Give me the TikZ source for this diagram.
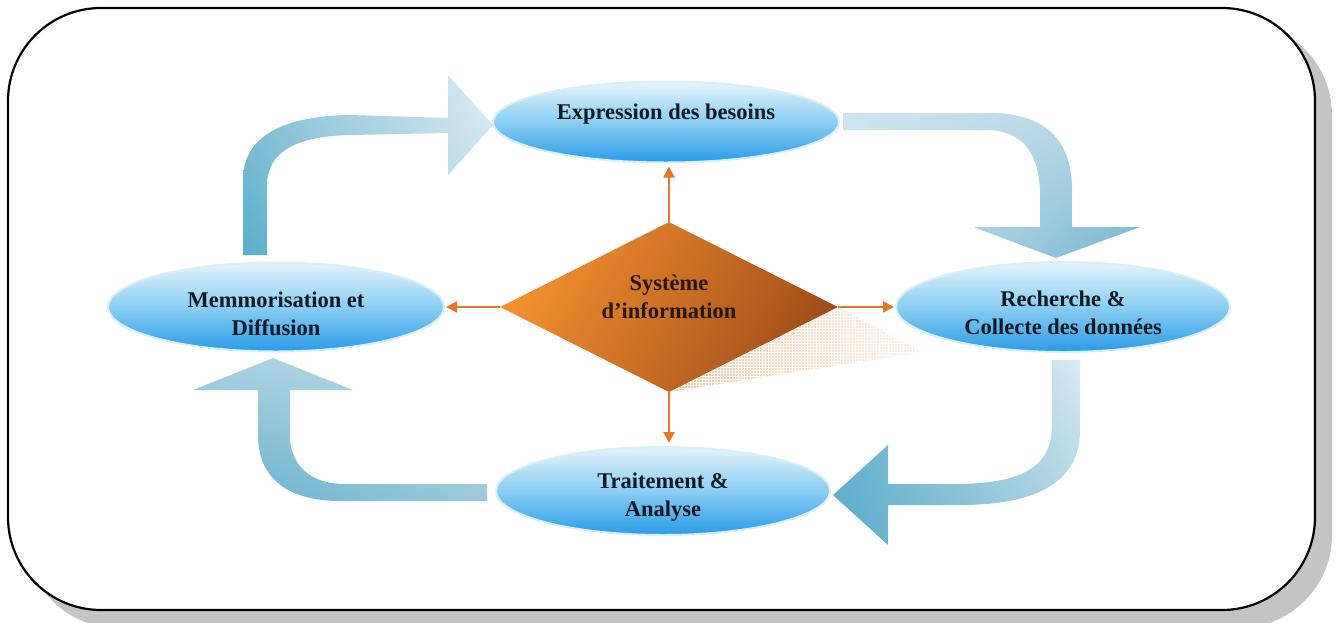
\documentclass[tikz,border=0pt]{standalone}
\usepackage{fontspec}
\setmainfont{Liberation Serif}
\usetikzlibrary{shapes.geometric,arrows.meta,patterns,calc,shadings}
\definecolor{shadowgray}{HTML}{C4C4C4}
\definecolor{elltop}{HTML}{E3F4FC}
\definecolor{ellmid}{HTML}{8ACEF3}
\definecolor{ellbot}{HTML}{2A9BE7}
\definecolor{ellglow}{HTML}{D8EEF9}
\definecolor{orline}{HTML}{E6772A}
\definecolor{orlight}{HTML}{F2902F}
\definecolor{ordark}{HTML}{A24E1A}
\definecolor{txtdark}{HTML}{101820}
\definecolor{diatxt}{HTML}{24160C}
\definecolor{shl}{HTML}{F5C49A}
\definecolor{shr}{HTML}{FDF0E6}
% blue arrow colours
\definecolor{aLL}{HTML}{58ADCC}\definecolor{aUL}{HTML}{8CC4DA}
\definecolor{aUR}{HTML}{DCECF3}\definecolor{aLR}{HTML}{C4DFEA}
\definecolor{bUL}{HTML}{CFE5F0}\definecolor{bLL}{HTML}{CFE5F0}
\definecolor{bUR}{HTML}{B2D6E5}\definecolor{bLR}{HTML}{74B5D0}
\definecolor{cUR}{HTML}{D8EBF3}\definecolor{cLR}{HTML}{A8D0E0}
\definecolor{cLL}{HTML}{58ABCA}\definecolor{cUL}{HTML}{6CB4D0}
\definecolor{dUL}{HTML}{A8D0E1}\definecolor{dLL}{HTML}{5FAFCC}
\definecolor{dUR}{HTML}{B8D9E7}\definecolor{dLR}{HTML}{9CCADC}
\begin{document}
\begin{tikzpicture}[x=1pt,y=-1pt,
  ellnode/.style={ellipse, inner sep=0pt, draw=ellglow, line width=2pt,
     top color=elltop, bottom color=ellbot, middle color=ellmid},
  lbl/.style={align=center, text=txtdark, inner sep=0pt,
     font=\fontsize{22.5}{28}\selectfont\bfseries},
  dianode/.style={diamond, inner sep=0pt, aspect=2, draw=none,
     left color=orlight, right color=ordark, shading angle=60},
  orarrow/.style={draw=orline, line width=2pt,
     -{Triangle[length=11pt,width=11pt]}},
  bluearrow/.style={draw=none}
]
\useasboundingbox (0,0) rectangle (1338,622);

% frame and shadow
\fill[shadowgray, rounded corners=93pt] (25,22) rectangle (1332,628);
\draw[line width=2.2pt, fill=white, rounded corners=93pt] (8,8) rectangle (1315,610);

% blue bent arrows
\shade[bluearrow, lower left=aLL, upper left=aUL, upper right=aUR, lower right=aLR]
  (243,255) -- (243,180) .. controls (243,135) and (285,116) .. (350,115)
  -- (448,118) -- (448,75) -- (493,125) -- (448,175) -- (448,133)
  -- (350,135) .. controls (300,136) and (267,150) .. (267,185)
  -- (267,255) -- cycle;

\shade[bluearrow, upper left=bUL, lower left=bLL, upper right=bUR, lower right=bLR]
  (843,113) -- (990,113) .. controls (1045,113) and (1072,140) .. (1072,190)
  -- (1072,227) -- (1140,227) -- (1056,258) -- (973,227) -- (1040,227)
  -- (1040,195) .. controls (1040,150) and (1020,130) .. (985,130)
  -- (843,130) -- cycle;

\shade[bluearrow, upper right=cUR, lower right=cLR, lower left=cLL, upper left=cUL]
  (1052,360) -- (1080,360) -- (1080,430) .. controls (1080,480) and (1040,505) .. (960,505)
  -- (888,505) -- (888,545) -- (833,495) -- (888,445) -- (888,484)
  -- (960,484) .. controls (1025,483) and (1052,465) .. (1052,425) -- cycle;

\shade[bluearrow, upper left=dUL, lower left=dLL, upper right=dUR, lower right=dLR]
  (487,484) -- (345,484) .. controls (310,484) and (290,465) .. (290,435)
  -- (290,390) -- (353,390) -- (273,358) -- (193,390) -- (258,390)
  -- (258,435) .. controls (258,480) and (290,501) .. (340,501)
  -- (487,501) -- cycle;

% ellipses
\node[ellnode, minimum width=346pt, minimum height=81pt] (expr) at (666,122) {};
\node[ellnode, minimum width=336pt, minimum height=89pt] (mem) at (276,307) {};
\node[ellnode, minimum width=334pt, minimum height=90pt] (rech) at (1063,307) {};
\node[ellnode, minimum width=334pt, minimum height=88pt] (trait) at (663,491) {};
\node[lbl] (exprtxt) at ($(expr)+(0,-8)$) {Expression des besoins};
\node[lbl] (memtxt) at ($(mem)+(0,6.5)$) {Memmorisation et\\Diffusion};
\node[lbl] (rechtxt) at ($(rech)+(0,5.5)$) {Recherche \&\\Collecte des données};
\node[lbl] (traittxt) at ($(trait)+(0,6.5)$) {Traitement \&\\Analyse};

% diamond with its shadow
\coordinate (dcenter) at (669,307);
\coordinate (deast) at (838,307);
\coordinate (dsouth) at (669,392);
\coordinate (dshadow) at (922,352);
\shade[left color=shl, right color=shr]
  (deast) -- (dshadow) -- (dsouth) -- cycle;
\fill[pattern=grid, pattern color=white] (deast) -- (dshadow) -- (dsouth) -- cycle;
\node[dianode, minimum width=338pt, minimum height=170pt] (dia) at (dcenter) {};
\node[lbl, text=diatxt] (dtext) at ($(dia)+(0,-10.5)$) {Système\\d’information};

% orange connectors
\draw[orarrow] (dia.north) -- ($(dia.north |- expr.south)+(0,3)$);
\draw[orarrow] (dia.west) -- ($(mem.east)+(1,0)$);
\draw[orarrow] (dia.east) -- ($(rech.west)+(-1,0)$);
\draw[orarrow] (dia.south) -- ($(dia.south |- trait.north)+(0,-3)$);
\end{tikzpicture}
\end{document}
